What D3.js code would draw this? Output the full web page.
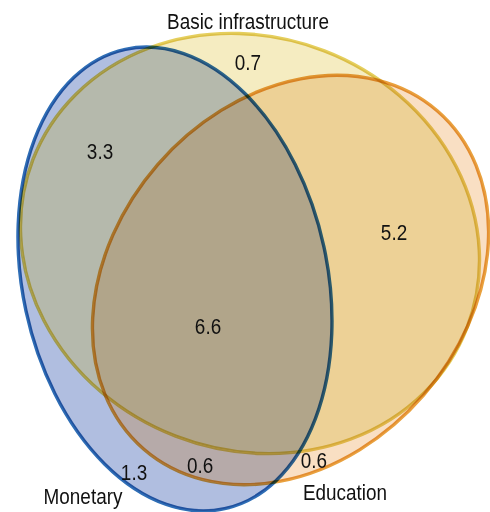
<!DOCTYPE html>
<html>
<head>
<meta charset="utf-8">
<script src="https://cdn.jsdelivr.net/npm/d3@7"></script>
<style>
  html, body { margin: 0; padding: 0; background: #fff; }
  svg { display: block; }
  text { font-family: "Liberation Sans", Arial, sans-serif; fill: #111; }
</style>
</head>
<body>
<svg id="chart" width="490" height="512"></svg>
<script>
// ---- data ----
const sets = ["Monetary", "Basic infrastructure", "Education"];
const regionKeys = ["M", "B", "E", "MB", "ME", "BE", "MBE"];
const regionValues = [1.3, 0.7, 0.6, 3.3, 0.6, 5.2, 6.6];

// ---- layout (normalized units, mapped through scales) ----
const W = 490, H = 512;
const x = d3.scaleLinear().domain([0, 1]).range([0, W]);
const y = d3.scaleLinear().domain([0, 1]).range([0, H]);
const r = d3.scaleLinear().domain([0, 1]).range([0, W]); // radius scale

// ellipse geometry per set: center, semi-axes, rotation (deg)
const ellCx = [0.3571, 0.5102, 0.5929];
const ellCy = [0.5449, 0.4756, 0.5469];
const ellRx = [0.3110, 0.4750, 0.4571];
const ellRy = [0.4796, 0.4215, 0.3592];
const ellRot = [-12.2, 21.1, -49];

const setFill = ["#b0bee0", "#f5ecc1", "#f9dfc3"];
const setStroke = ["#2e6db5", "#e5cf5e", "#e9a13e"];
const pairFill = { MB: "#b5b9ac", ME: "#b6aaa9", BE: "#edd196" };
const tripleFill = "#b1a58a";

// label anchors
const valX = [0.2735, 0.5061, 0.6408, 0.2041, 0.4082, 0.8041, 0.4245];
const valY = [0.9375, 0.1367, 0.9141, 0.3105, 0.9238, 0.4688, 0.6523];
const setLabelX = [0.1694, 0.5061, 0.7041];
const setLabelY = [0.9844, 0.0566, 0.9766];

const svg = d3.select("#chart");
svg.append("rect").attr("width", W).attr("height", H).attr("fill", "#fff");

const ells = sets.map((s, i) => ({
  name: s,
  cx: x(ellCx[i]), cy: y(ellCy[i]),
  rx: r(ellRx[i]), ry: r(ellRy[i]),
  rot: ellRot[i]
}));

const defs = svg.append("defs");
function addEllipse(sel, e) {
  return sel.append("ellipse")
    .attr("cx", e.cx).attr("cy", e.cy)
    .attr("rx", e.rx).attr("ry", e.ry)
    .attr("transform", `rotate(${e.rot} ${e.cx} ${e.cy})`);
}
ells.forEach((e, i) => {
  addEllipse(defs.append("clipPath").attr("id", "clip" + i), e);
});

// single-set fills
const fills = svg.append("g");
ells.forEach((e, i) => addEllipse(fills, e).attr("fill", setFill[i]));

// pair intersections
function pair(a, b, color) {
  const g = fills.append("g").attr("clip-path", `url(#clip${b})`);
  addEllipse(g, ells[a]).attr("fill", color);
}
pair(0, 1, pairFill.MB);
pair(0, 2, pairFill.ME);
pair(1, 2, pairFill.BE);
// triple
{
  const g1 = fills.append("g").attr("clip-path", "url(#clip1)");
  const g2 = g1.append("g").attr("clip-path", "url(#clip2)");
  addEllipse(g2, ells[0]).attr("fill", tripleFill);
}

// outlines
const strokes = svg.append("g");
ells.forEach((e, i) => addEllipse(strokes, e)
  .attr("fill", "none")
  .attr("stroke", setStroke[i])
  .attr("stroke-width", 3.4)
  .style("mix-blend-mode", "multiply"));

// text helper: condensed look via horizontal scale
function place(sel, px, py) {
  sel.attr("transform", (d, i) => `translate(${px(d, i)},${py(d, i)}) scale(0.86,1)`);
}

// region values
const fmt = d3.format(".1f");
const vals = svg.append("g").selectAll("text").data(regionValues).join("text")
  .attr("text-anchor", "middle")
  .attr("font-size", 22)
  .text(d => fmt(d));
place(vals, (d, i) => x(valX[i]), (d, i) => y(valY[i]));

// set labels
const labs = svg.append("g").selectAll("text").data(sets).join("text")
  .attr("text-anchor", "middle")
  .attr("font-size", 22)
  .text(d => d);
place(labs, (d, i) => x(setLabelX[i]), (d, i) => y(setLabelY[i]));
</script>
</body>
</html>
